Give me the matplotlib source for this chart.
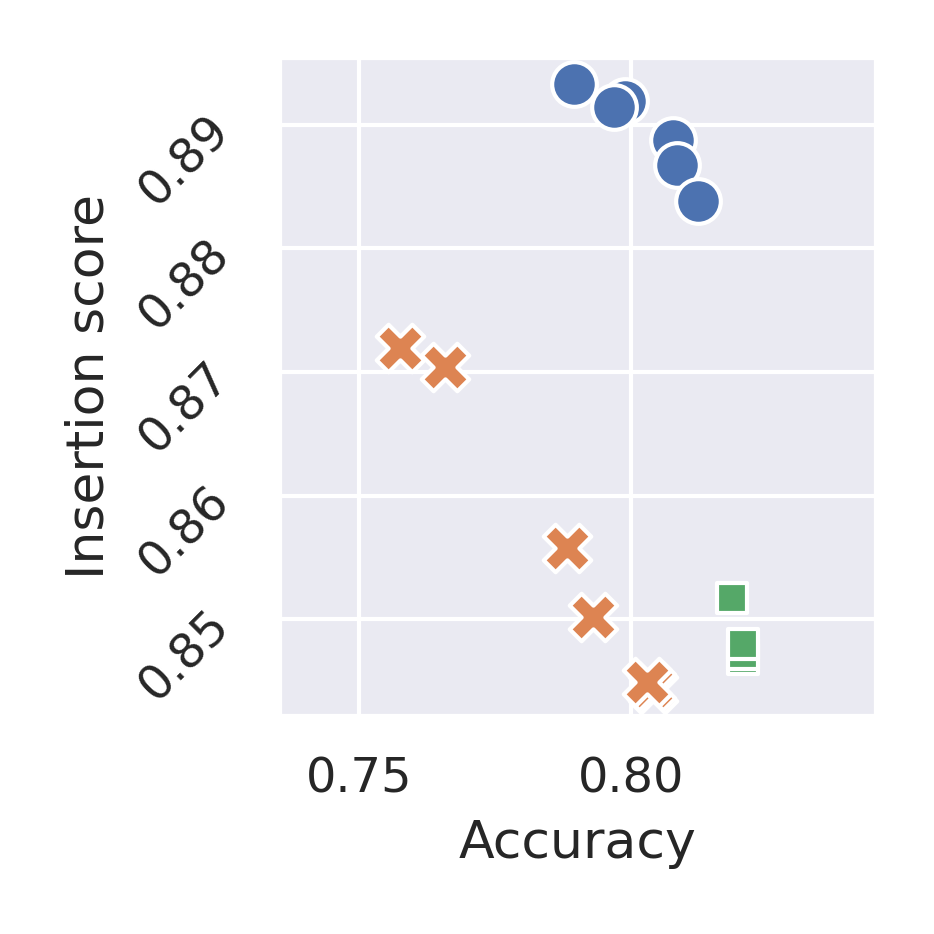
import numpy as np
import pandas as pd
import seaborn as sns
import matplotlib.pyplot as plt

# values
acc_a = [0.7896, 0.7989, 0.7969, 0.8078, 0.8085, 0.8124]
ins_a = [0.89325, 0.89187, 0.89138, 0.88878, 0.88675, 0.88382]

acc_b = [0.7576, 0.7659, 0.7883, 0.7930, 0.8041, 0.8038, 0.8031]
ins_b = [0.87195, 0.87041, 0.85577, 0.85016, 0.84440, 0.84460, 0.84496]

acc_c = [0.8187, 0.8207, 0.8207, 0.8207]
ins_c = [0.85171, 0.84683, 0.84724, 0.84805]

sns.set_theme(style="darkgrid")
colors = sns.color_palette()

fig = plt.figure(figsize=(934 / 300, 934 / 300), dpi=300)
ax = fig.add_axes([0.2985, 0.2335, 0.6395, 0.7060])

ax.scatter(acc_a, ins_a, marker="o", s=115, color=colors[0], edgecolor="white", linewidth=1)
ax.scatter(acc_b, ins_b, marker="X", s=130, color=colors[1], edgecolor="white", linewidth=1)
ax.scatter(acc_c, ins_c, marker="s", s=55, color=colors[2], edgecolor="white", linewidth=1)

ax.set_xlim(0.7352, 0.8452)
ax.set_ylim(0.8422, 0.8955)
ax.set_xticks([0.75, 0.80])
ax.set_yticks([0.85, 0.86, 0.87, 0.88, 0.89])
ax.set_xticklabels(["0.75", "0.80"], fontsize=11.5)
ax.set_yticklabels(["0.85", "0.86", "0.87", "0.88", "0.89"], fontsize=11.5, rotation=45)
ax.set_xlabel("Accuracy", fontsize=12.5)
ax.set_ylabel("Insertion score", fontsize=12.5)

plt.savefig("out.png", dpi=300)
